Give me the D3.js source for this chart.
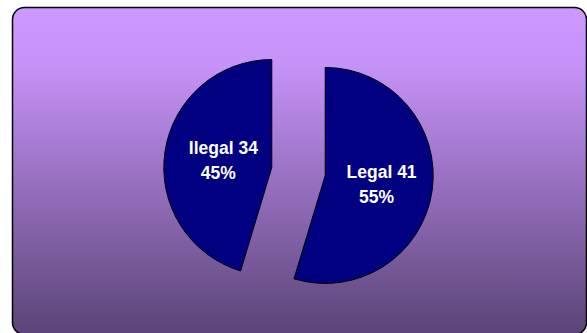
<!DOCTYPE html>
<html>
<head>
<meta charset="utf-8">
<script src="https://cdn.jsdelivr.net/npm/d3@7"></script>
<style>
  html, body { margin: 0; padding: 0; background: #ffffff; }
  svg { display: block; }
</style>
</head>
<body>
<svg id="chart" width="587" height="333"></svg>
<script>
// Data: status of the items counted, shown as an exploded pie
const categories = ["Legal", "Ilegal"];
const values = [41, 34];

const width = 587, height = 333;
const svg = d3.select("#chart");

// Background panel with vertical purple gradient
const defs = svg.append("defs");
const grad = defs.append("linearGradient")
  .attr("id", "bg")
  .attr("x1", 0).attr("y1", 0).attr("x2", 0).attr("y2", 1);
grad.append("stop").attr("offset", "0%").attr("stop-color", "#CC99FF");
grad.append("stop").attr("offset", "18%").attr("stop-color", "#C592F7");
grad.append("stop").attr("offset", "100%").attr("stop-color", "#5A4476");

svg.append("rect")
  .attr("x", 12.5).attr("y", 7.5)
  .attr("width", 574).attr("height", 327)
  .attr("rx", 12).attr("ry", 12)
  .attr("fill", "url(#bg)")
  .attr("stroke", "#000")
  .attr("stroke-width", 1.5);

// Pie geometry
const cx = 298.5, cy = 171.5, radius = 108, explode = 27;
const total = d3.sum(values);

const pie = d3.pie().sort(null).value(d => d.value);
const arcs = pie(categories.map((c, i) => ({ name: c, value: values[i] })));
const arc = d3.arc().innerRadius(0).outerRadius(radius);

const g = svg.append("g").attr("transform", `translate(${cx},${cy})`);

const slice = g.selectAll("g.slice")
  .data(arcs)
  .join("g")
  .attr("class", "slice")
  .attr("transform", d => {
    const a = (d.startAngle + d.endAngle) / 2;
    return `translate(${Math.sin(a) * explode},${-Math.cos(a) * explode})`;
  });

slice.append("path")
  .attr("d", arc)
  .attr("fill", "#000080")
  .attr("stroke", "#000")
  .attr("stroke-width", 1)
  .attr("stroke-linejoin", "round");

// Data labels: "Name value" and percentage, inside each slice
const labelR = [57, 49];
slice.each(function(d, i) {
  const a = (d.startAngle + d.endAngle) / 2;
  const lx = Math.sin(a) * labelR[i];
  const ly = -Math.cos(a) * labelR[i];
  const t = d3.select(this).append("text")
    .attr("font-family", "Arial, 'Liberation Sans', sans-serif")
    .attr("font-weight", "bold")
    .attr("font-size", "17.5px")
    .attr("fill", "#ffffff")
    .attr("text-anchor", "middle");
  t.append("tspan")
    .attr("x", lx).attr("y", ly - 6)
    .text(`${d.data.name} ${d.data.value}`);
  t.append("tspan")
    .attr("x", lx - 5).attr("y", ly + 19)
    .text(`${Math.round(d.data.value / total * 100)}%`);
});
</script>
</body>
</html>
